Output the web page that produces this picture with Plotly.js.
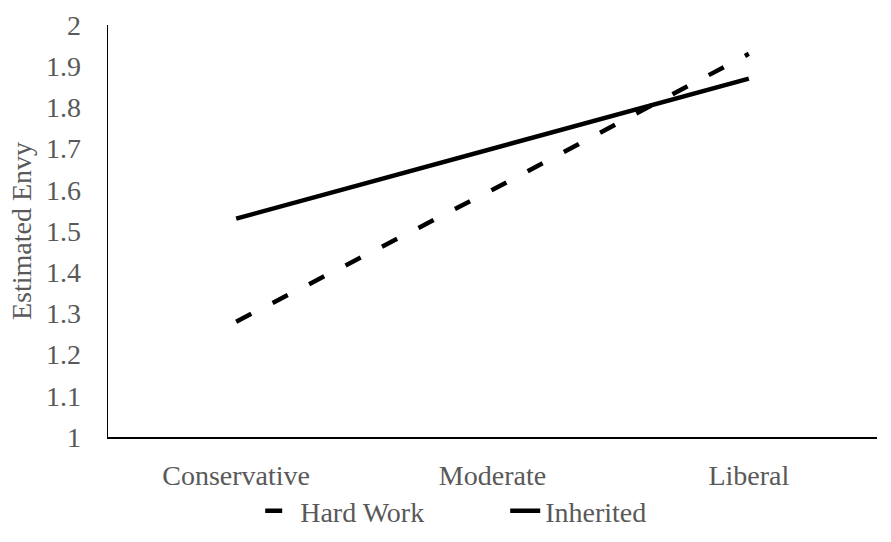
<!DOCTYPE html>
<html>
<head>
<meta charset="utf-8">
<script src="https://cdn.plot.ly/plotly-3.0.1.min.js"></script>
<style>html,body{margin:0;padding:0;background:#fff;}#chart{width:891px;height:542px;}</style>
</head>
<body>
<div id="chart"></div>
<script>
const categories = ["Conservative", "Moderate", "Liberal"];
const hardWork = [1.28, 1.60, 1.93];
const inherited = [1.53, 1.70, 1.87];
const yTicks = [1, 1.1, 1.2, 1.3, 1.4, 1.5, 1.6, 1.7, 1.8, 1.9, 2];
const yTickLabels = ["1", "1.1", "1.2", "1.3", "1.4", "1.5", "1.6", "1.7", "1.8", "1.9", "2"];

const font = "Liberation Serif, Times New Roman, serif";
const gray = "#595959";
const fs = 28;

const data = [
  {x: categories, y: hardWork, name: "Hard Work", type: "scatter", mode: "lines",
   line: {color: "#000", width: 4.5, dash: "17px,24px"}},
  {x: categories, y: inherited, name: "Inherited", type: "scatter", mode: "lines",
   line: {color: "#000", width: 4.5}}
];

const layout = {
  width: 891, height: 542,
  margin: {l: 108, r: 14, t: 25, b: 105},
  paper_bgcolor: "#fff", plot_bgcolor: "#fff",
  font: {family: font, color: gray, size: fs},
  showlegend: true,
  legend: {orientation: "h", xref: "container", x: 0.567, xanchor: "center",
           yref: "container", y: 0.057, yanchor: "middle", entrywidth: 200,
           bgcolor: "rgba(0,0,0,0)",
           font: {family: font, size: fs, color: gray}, tracegroupgap: 0},
  xaxis: {type: "category", automargin: false, showline: true, linecolor: "#000", linewidth: 1.5,
          showgrid: false, zeroline: false, ticks: "", ticklen: 0, ticklabelstandoff: 13,
          tickfont: {family: font, size: fs, color: gray}, range: [-0.5, 2.5]},
  yaxis: {range: [1, 2], automargin: false, tickvals: yTicks, ticktext: yTickLabels,
          showline: true, linecolor: "#000", linewidth: 1.5, showgrid: false, zeroline: false,
          ticks: "", ticklabelstandoff: 20, tickfont: {family: font, size: fs, color: gray},
          title: {text: "Estimated Envy", font: {family: font, size: fs, color: gray}, standoff: 6}}
};

Plotly.newPlot("chart", data, layout, {displayModeBar: false, staticPlot: true});
</script>
</body>
</html>
